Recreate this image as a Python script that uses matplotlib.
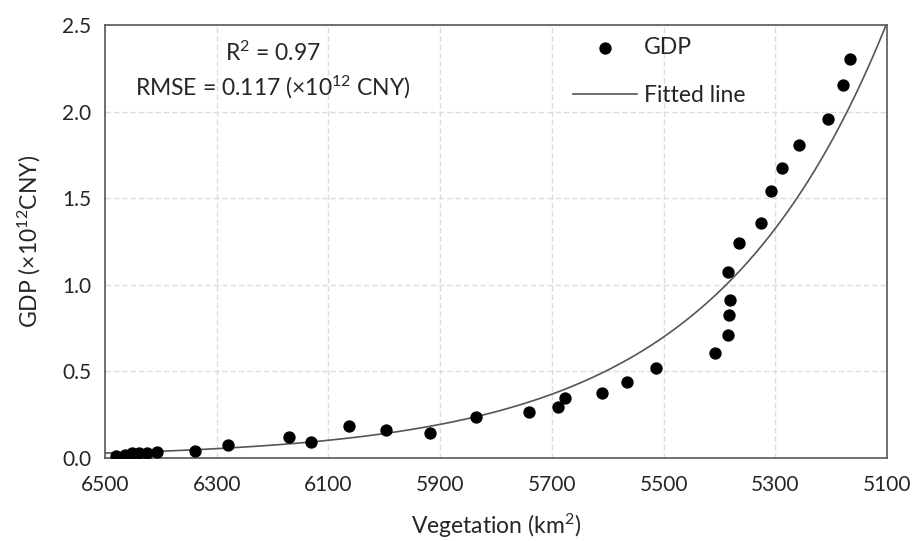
import numpy as np
import matplotlib
matplotlib.use("Agg")
import matplotlib.pyplot as plt

plt.rcParams['font.family'] = ['Lato', 'DejaVu Sans']
plt.rcParams['mathtext.fontset'] = 'custom'
plt.rcParams['mathtext.rm'] = 'Lato'
plt.rcParams['mathtext.it'] = 'Lato'
plt.rcParams['mathtext.default'] = 'regular'

# vegetation area (km2) and GDP (x10^12 CNY)
vegetation = [6480, 6464, 6452, 6439, 6425, 6407, 6339, 6280, 6171, 6131,
              6063, 5997, 5918, 5836, 5741, 5689, 5677, 5610, 5566, 5514,
              5408, 5385, 5383, 5381, 5385, 5365, 5326, 5308, 5288, 5258,
              5206, 5179, 5166]
gdp = [0.010, 0.017, 0.029, 0.029, 0.029, 0.035, 0.040, 0.075, 0.121, 0.092,
       0.185, 0.162, 0.144, 0.237, 0.266, 0.295, 0.346, 0.375, 0.440, 0.520,
       0.606, 0.710, 0.825, 0.912, 1.074, 1.240, 1.357, 1.540, 1.674, 1.807,
       1.957, 2.154, 2.304]

# exponential fit y = a * exp(-b * x)
fit_b = 0.0032
fit_a = np.exp(fit_b * 5388)

xticks = [6500, 6300, 6100, 5900, 5700, 5500, 5300, 5100]
yticks = [0.0, 0.5, 1.0, 1.5, 2.0, 2.5]

fig = plt.figure(figsize=(9.19, 5.41), dpi=100)
ax = fig.add_axes([0.1143, 0.1534, 0.8509, 0.8004])

xs = np.linspace(6500, 5100, 400)
ax.plot(xs, fit_a * np.exp(-fit_b * xs), color='#555555', lw=1.2,
        label='Fitted line', zorder=2)
ax.scatter(vegetation, gdp, s=62, color='black', label='GDP', zorder=3)

ax.set_xlim(6500, 5100)
ax.set_ylim(0, 2.5)
ax.set_xticks(xticks)
ax.set_yticks(yticks)
ax.set_yticklabels(['%.1f' % v for v in yticks])
ax.tick_params(axis='x', pad=12)
ax.tick_params(axis='y', pad=10)
ax.tick_params(length=0, labelsize=15, colors='#262626')
ax.grid(True, color='#dcdcdc', lw=1, linestyle=(0, (4, 2)))
ax.set_axisbelow(True)
for s in ax.spines.values():
    s.set_color('#595959')
    s.set_linewidth(1.2)

ax.set_xlabel(r'Vegetation (km$^{2}$)', fontsize=16.5, color='#262626', labelpad=12)
ax.set_ylabel(r'GDP ($\times$10$^{12}$CNY)', fontsize=16.5, color='#262626',
              labelpad=14)

ax.text(0.215, 0.935, r'R$^{2}$ = 0.97', transform=ax.transAxes, ha='center',
        va='center', fontsize=16.5, color='#262626')
ax.text(0.215, 0.855, r'RMSE = 0.117 ($\times$10$^{12}$ CNY)',
        transform=ax.transAxes, ha='center', va='center', fontsize=16.5,
        color='#262626')

handles, labels = ax.get_legend_handles_labels()
ax.legend(handles[::-1], labels[::-1], loc='upper left',
          bbox_to_anchor=(0.572, 1.02), frameon=False, fontsize=16.5,
          handlelength=2.8, handletextpad=0.3, labelspacing=1.2,
          labelcolor='#262626')

fig.savefig('out.png', dpi=100)
